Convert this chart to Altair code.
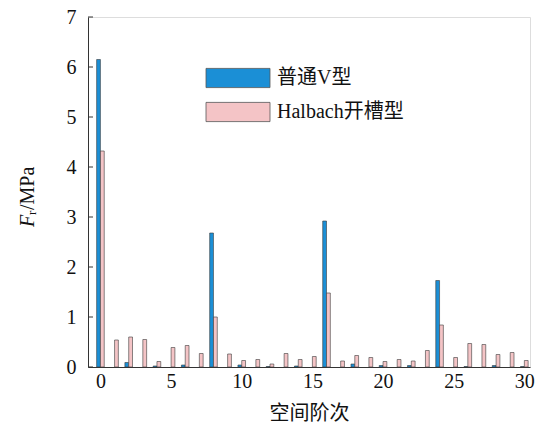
import altair as alt
import pandas as pd

orders = list(range(31))
series_names = ["普通V型", "Halbach开槽型"]
blue_vals = [6.15, 0, 0.09, 0, 0.02, 0, 0.04, 0, 2.68, 0, 0.04, 0, 0.01, 0, 0.02, 0,
             2.92, 0, 0.06, 0, 0.03, 0, 0.03, 0, 1.73, 0, 0.01, 0, 0.03, 0, 0.01]
pink_vals = [4.32, 0.54, 0.60, 0.55, 0.11, 0.39, 0.43, 0.27, 1.00, 0.26, 0.13, 0.15, 0.06,
             0.27, 0.15, 0.21, 1.48, 0.12, 0.23, 0.19, 0.11, 0.15, 0.12, 0.33, 0.84, 0.19,
             0.47, 0.45, 0.25, 0.29, 0.13]
x_tick_values = [0, 5, 10, 15, 20, 25, 30]
y_tick_values = [0, 1, 2, 3, 4, 5, 6, 7]

rows = []
for o, b, p in zip(orders, blue_vals, pink_vals):
    rows.append({"order": o, "series": series_names[0], "value": b})
    rows.append({"order": o, "series": series_names[1], "value": p})
df = pd.DataFrame(rows)
ticks_df = pd.DataFrame({"t": y_tick_values})

FONT = "Liberation Serif, Times New Roman, Noto Sans CJK SC"
BLUE = "#1b8fd6"
PINK = "#f4c4c6"

xscale = alt.Scale(domain=[-0.88, 30.4], nice=False, zero=False, padding=0)
yscale = alt.Scale(domain=[0, 7], nice=False)

bars = (
    alt.Chart(df)
    .transform_filter("datum.value > 0")
    .transform_calculate(
        xpos="datum.order + (datum.series == '普通V型' ? -0.135 : 0.135)"
    )
    .mark_bar(width=3.8, stroke="#3a3a3a", strokeWidth=0.6)
    .encode(
        x=alt.X("xpos:Q", scale=xscale,
                axis=alt.Axis(values=x_tick_values, ticks=False, grid=False,
                              labelFontSize=20, labelFont=FONT, labelPadding=4,
                              labelColor="#111", domainColor="#333", labelFlush=False,
                              title="空间阶次", titleFont=FONT, titleFontSize=20,
                              titleFontWeight="normal", titlePadding=12,
                              titleColor="#111")),
        y=alt.Y("value:Q", scale=yscale,
                axis=alt.Axis(values=y_tick_values, ticks=False, grid=False,
                              labelFontSize=20, labelFont=FONT, labelPadding=12,
                              labelColor="#111", domainColor="#333", title=None)),
        color=alt.Color("series:N",
                        scale=alt.Scale(domain=series_names, range=[BLUE, PINK]),
                        legend=alt.Legend(
                            title=None, orient="none", legendX=140, legendY=51,
                            symbolType="M-4,-1.2H4V1.2H-4Z", symbolSize=256,
                            symbolStrokeColor="#555", symbolStrokeWidth=0.8,
                            symbolOpacity=1, labelOffset=29, rowPadding=10,
                            padding=0, labelFontSize=20, labelFont=FONT,
                            labelColor="#111")),
    )
)

tick_marks = (
    alt.Chart(ticks_df)
    .mark_rule(color="#333", strokeWidth=1)
    .encode(y=alt.Y("t:Q", scale=yscale), x=alt.value(0), x2=alt.value(5))
)

title_F = alt.Chart(pd.DataFrame({"s": ["F"]})).mark_text(
    font=FONT, fontSize=20, fontStyle="italic", angle=270, align="left",
    baseline="middle", color="#111").encode(
    text="s:N", x=alt.value(-60), y=alt.value(210))
title_r = alt.Chart(pd.DataFrame({"s": ["r"]})).mark_text(
    font=FONT, fontSize=13, angle=270, align="left",
    baseline="middle", color="#111").encode(
    text="s:N", x=alt.value(-56), y=alt.value(198))
title_rest = alt.Chart(pd.DataFrame({"s": ["/MPa"]})).mark_text(
    font=FONT, fontSize=20, angle=270, align="left",
    baseline="middle", color="#111").encode(
    text="s:N", x=alt.value(-60), y=alt.value(193))

chart = (
    alt.layer(bars, tick_marks, title_F, title_r, title_rest)
    .properties(width=442, height=350,
                autosize=alt.AutoSizeParams(type="none"),
                padding={"left": 88, "top": 17, "right": 18, "bottom": 58})
    .configure_view(stroke=None)
    .configure(background="white")
)

chart.save("out.html", embed_options={"renderer": "svg", "actions": False})
